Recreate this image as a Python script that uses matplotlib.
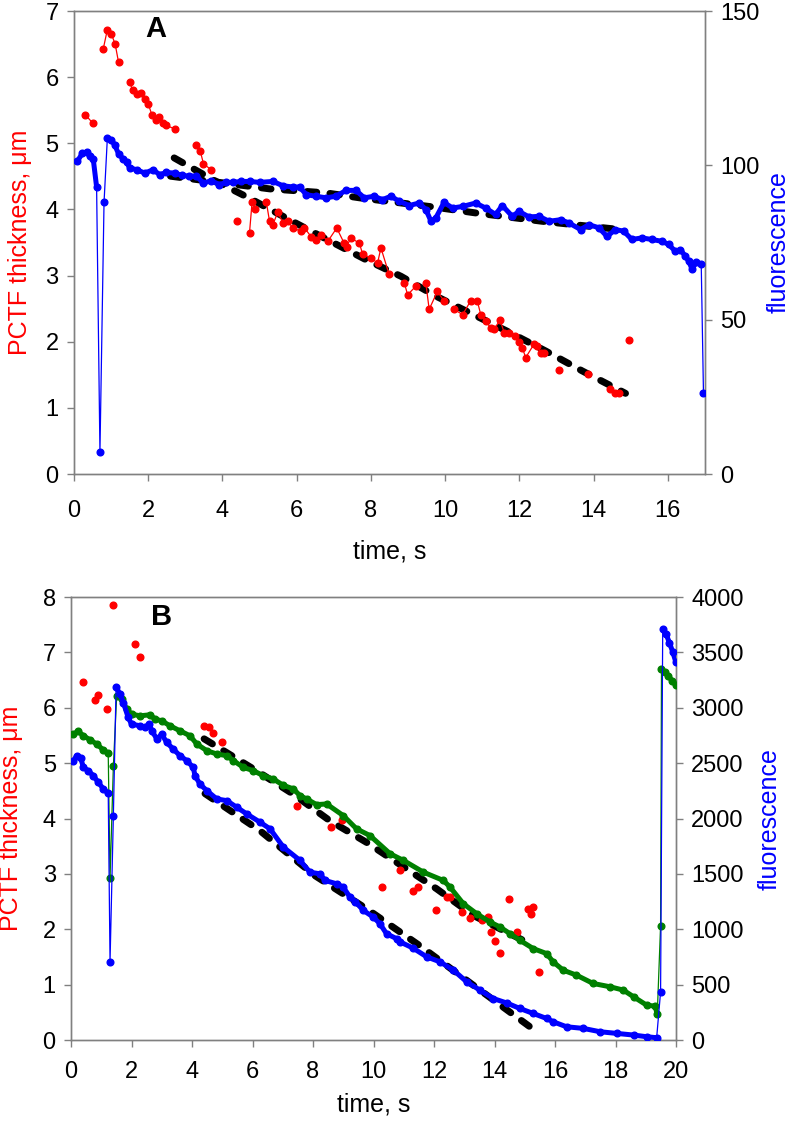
import numpy as np
import matplotlib
matplotlib.use("Agg")
import matplotlib.pyplot as plt

plt.rcParams['font.family'] = ['Liberation Sans', 'DejaVu Sans']

# ---------------- Panel A data ----------------
a_red_t = [0.31, 0.50, 0.79, 0.90, 1.01, 1.11, 1.20, 1.50, 1.58, 1.70, 1.81, 1.92, 2.00, 2.10, 2.20,
           2.29, 2.40, 2.49, 2.71, 3.29, 3.40, 3.49, 3.70, 4.38, 4.73, 4.80, 4.89, 5.18, 5.27, 5.36,
           5.49, 5.63, 5.76, 5.90, 6.12, 6.21, 6.39, 6.52, 6.66, 6.84, 7.08, 7.28, 7.35, 7.46, 7.69,
           7.78, 8.00, 8.18, 8.27, 8.49, 8.90, 8.99, 9.21, 9.48, 9.57, 9.79, 9.97, 10.24, 10.47, 10.69,
           10.87, 10.96, 11.09, 11.23, 11.32, 11.48, 11.59, 11.72, 11.88, 11.99, 12.08, 12.17, 12.39,
           12.48, 12.57, 12.66, 13.06, 13.85, 14.45, 14.59, 14.68, 14.96]
a_red_v = [5.43, 5.31, 6.43, 6.72, 6.65, 6.50, 6.23, 5.93, 5.80, 5.75, 5.76, 5.67, 5.60, 5.43, 5.35,
           5.40, 5.31, 5.27, 5.22, 4.98, 4.89, 4.69, 4.60, 3.82, 3.65, 4.12, 4.00, 4.12, 3.82, 3.77,
           3.96, 3.80, 3.82, 3.72, 3.67, 3.72, 3.59, 3.54, 3.62, 3.52, 3.72, 3.49, 3.44, 3.57, 3.49,
           3.32, 3.27, 3.19, 3.42, 3.02, 2.89, 2.71, 2.84, 2.89, 2.49, 2.76, 2.62, 2.49, 2.41, 2.62,
           2.61, 2.41, 2.31, 2.21, 2.19, 2.33, 2.14, 2.14, 2.09, 2.00, 1.91, 1.76, 1.96,
           1.94, 1.83, 1.83, 1.57, 1.52, 1.29, 1.23, 1.23, 2.03]

a_blue_t = [0.09, 0.23, 0.34, 0.43, 0.52, 0.61, 0.70, 0.81, 0.90, 1.01, 1.10, 1.20, 1.33, 1.42, 1.50,
            1.69, 1.91, 2.13, 2.31, 2.49, 2.72, 2.90, 3.10, 3.30, 3.48, 3.70, 3.92, 4.10, 4.28, 4.50,
            4.73, 5.00, 5.36, 5.63, 5.90, 6.08, 6.26, 6.52, 6.79, 7.06, 7.33, 7.60, 7.82, 8.09, 8.31,
            8.54, 8.76, 9.03, 9.30, 9.48, 9.62, 9.75, 9.97, 10.20, 10.47, 10.82, 11.09, 11.36, 11.54,
            11.81, 11.99, 12.26, 12.53, 12.80, 13.11, 13.33, 13.65, 13.87, 14.14, 14.36, 14.59, 14.81,
            15.03, 15.30, 15.57, 15.84, 16.02, 16.20, 16.34, 16.47, 16.56, 16.65, 16.77, 16.90, 16.96]
a_blue_f = [101.3, 104.0, 104.2, 103.0, 102.0, 93.0, 7.0, 88.0, 108.9, 108.3, 106.5, 103.8, 102.0, 101.0, 99.2,
            98.6, 97.5, 98.6, 97.0, 97.7, 97.5, 96.8, 96.5, 96.6, 94.3, 95.0, 93.8, 94.5, 94.5, 94.8,
            94.8, 94.5, 94.8, 93.4, 93.0, 93.0, 90.5, 90.0, 89.5, 90.0, 91.9, 91.9, 89.5, 90.0, 88.9,
            90.0, 88.4, 87.0, 87.8, 85.7, 81.9, 83.0, 88.0, 86.2, 86.7, 87.8, 86.2, 84.1, 87.0,
            83.5, 85.1, 83.3, 83.5, 81.9, 82.4, 81.4, 79.2, 80.8, 79.8, 77.0, 79.2, 78.7,
            76.0, 76.5, 76.0, 75.4, 74.4, 72.2, 72.7, 70.6, 69.0, 66.5, 68.6, 67.9, 26.4]

a_fit_thick_t = [2.70, 3.74, 4.73, 5.72, 6.84, 7.87, 8.81, 9.75, 10.73, 11.67, 12.71, 13.69, 14.86]
a_fit_thick_v = [4.78, 4.45, 4.17, 3.87, 3.54, 3.24, 2.99, 2.69, 2.42, 2.16, 1.86, 1.56, 1.22]
a_fit_fl_t = [2.60, 5.27, 6.79, 7.69, 9.70, 10.82, 12.61, 14.72]
a_fit_fl_f = [96.5, 92.4, 91.1, 89.5, 86.5, 84.6, 81.9, 79.2]

# ---------------- Panel B data ----------------
b_red_t = [0.41, 0.79, 0.90, 1.20, 1.40, 2.10, 2.29, 4.40, 4.57, 4.70, 5.00, 7.47, 8.58, 8.95, 10.27,
           10.88, 11.32, 11.48, 12.08, 12.42, 12.53, 12.92, 13.19, 13.58, 13.80, 13.89, 14.00, 14.18,
           14.49, 14.73, 15.10, 15.20, 15.28, 15.48]
b_red_v = [6.46, 6.14, 6.23, 5.97, 7.86, 7.16, 6.91, 5.68, 5.65, 5.54, 5.38, 4.22, 3.84, 3.98, 2.77,
           3.08, 2.70, 2.76, 2.34, 2.58, 2.59, 2.31, 2.21, 2.16, 2.22, 1.95, 1.78, 1.57,
           2.54, 1.95, 2.37, 2.27, 2.40, 1.23]

b_blue_t = [0.08, 0.19, 0.32, 0.41, 0.57, 0.74, 0.90, 1.07, 1.23, 1.29, 1.40, 1.49, 1.62, 1.73, 1.89,
            2.00, 2.28, 2.45, 2.59, 2.67, 2.84, 3.00, 3.16, 3.38, 3.60, 3.83, 4.04, 4.10, 4.26, 4.49,
            4.82, 5.15, 5.48, 5.81, 6.25, 6.58, 7.02, 7.57, 7.90, 8.23, 8.40, 8.78, 9.00, 9.22, 9.40,
            9.66, 9.99, 10.21, 10.43, 10.76, 10.88, 11.31, 11.76, 12.20, 12.64, 13.08, 13.52, 13.96,
            14.40, 14.84, 15.28, 15.72, 15.94, 16.38, 16.94, 17.49, 18.04, 18.60, 19.03, 19.36, 19.49,
            19.56, 19.67, 19.78, 19.89, 19.99]
b_blue_f = [2522, 2568, 2547, 2462, 2432, 2387, 2327, 2268, 2228, 706, 2027, 3189, 3123, 3048, 2913,
            2853, 2838, 2823, 2853, 2793, 2718, 2763, 2688, 2628, 2568, 2522, 2462, 2387, 2312, 2252,
            2177, 2162, 2102, 2042, 1967, 1907, 1742, 1622, 1516, 1501, 1441, 1411, 1381, 1291, 1250,
            1171, 1111, 1051, 960, 916, 886, 830, 751, 706, 631, 526, 450, 375,
            335, 285, 240, 195, 165, 120, 105, 75, 60, 45, 30, 21, 435,
            3709, 3669, 3588, 3507, 3417]

b_green_t = [0.08, 0.24, 0.41, 0.64, 0.85, 1.07, 1.23, 1.29, 1.40, 1.51, 1.67, 1.84, 2.00, 2.28, 2.61,
             2.78, 3.00, 3.27, 3.60, 3.93, 4.16, 4.49, 4.82, 5.15, 5.37, 5.70, 6.03, 6.36, 6.69, 7.02,
             7.35, 7.57, 7.79, 8.12, 8.45, 9.00, 9.44, 9.88, 10.55, 10.99, 11.65, 12.31, 12.53, 12.97,
             13.41, 13.85, 14.18, 14.51, 14.84, 15.28, 15.72, 15.94, 16.27, 16.71, 17.26, 17.82, 18.26,
             18.60, 19.03, 19.31, 19.38, 19.49, 19.52, 19.63, 19.74, 19.88, 19.99]
b_green_f = [2763, 2787, 2748, 2709, 2673, 2619, 2589, 1462, 2471, 3108, 3078, 2988, 2943, 2928, 2937,
             2898, 2883, 2838, 2793, 2748, 2673, 2613, 2583, 2568, 2523, 2462, 2432, 2387, 2357, 2300,
             2268, 2207, 2177, 2126, 2132, 2027, 1907, 1847, 1682, 1622, 1516, 1441, 1381, 1231,
             1141, 1066, 1021, 961, 901, 826, 781, 706, 631, 586, 511, 481, 451,
             390, 315, 306, 231, 1033, 3348, 3324, 3288, 3243, 3207]

b_fit_upper_t = [4.40, 6.14, 7.35, 8.56, 9.77, 10.93, 12.09, 13.30, 14.40, 14.95]
b_fit_upper_v = [5.44, 4.86, 4.44, 3.96, 3.57, 3.15, 2.73, 2.25, 1.95, 1.80]
b_fit_lower_t = [4.43, 6.25, 8.06, 9.80, 11.54, 13.30, 15.17]
b_fit_lower_v = [4.45, 3.78, 2.97, 2.36, 1.70, 0.99, 0.24]

RED = '#ff0000'
BLUE = '#0000ff'
GREEN = '#008000'
GREY = '#808080'
FS = 17
MS = 4.8


def broken_t(t, v, gap):
    """Insert NaN breaks where consecutive times are far apart."""
    t = np.asarray(t, float)
    v = np.asarray(v, float)
    tt, vv = [t[0]], [v[0]]
    for i in range(1, len(t)):
        if t[i] - t[i - 1] > gap:
            tt.append(np.nan)
            vv.append(np.nan)
        tt.append(t[i])
        vv.append(v[i])
    return np.array(tt), np.array(vv)


def broken_v(t, v, jump):
    """Insert NaN breaks where consecutive values jump strongly."""
    t = np.asarray(t, float)
    v = np.asarray(v, float)
    tt, vv = [t[0]], [v[0]]
    for i in range(1, len(t)):
        if abs(v[i] - v[i - 1]) > jump:
            tt.append(np.nan)
            vv.append(np.nan)
        tt.append(t[i])
        vv.append(v[i])
    return np.array(tt), np.array(vv)


def band(ax, t, v, color, jump):
    ax.plot(t, v, color=color, lw=0.9, zorder=3)
    bt, bv = broken_v(t, v, jump)
    ax.plot(bt, bv, color=color, lw=3.6, solid_capstyle='round', zorder=3)
    ax.plot(t, v, ls='none', marker='o', ms=MS, mec=color, mfc=color, zorder=3)


def style(ax, twin, xpad):
    for s in list(ax.spines.values()) + list(twin.spines.values()):
        s.set_color(GREY)
        s.set_linewidth(1.0)
    ax.tick_params(direction='out', length=5, width=1, color=GREY, labelsize=FS, pad=6)
    twin.tick_params(direction='out', length=5, width=1, color=GREY, labelsize=FS, pad=6)
    ax.tick_params(axis='x', pad=xpad)


def dashed(ax, t, v):
    ln, = ax.plot(t, v, color='black', lw=5, zorder=1)
    ln.set_dashes((1.4, 1.9))
    ln.set_dash_capstyle('round')


fig = plt.figure(figsize=(7.97, 11.30), dpi=100)

# ---------------- Panel A ----------------
axA = fig.add_axes([0.0928, 0.5805, 0.7917, 0.4097])
axA2 = axA.twinx()
dashed(axA, a_fit_thick_t, a_fit_thick_v)
rt, rv = broken_t(a_red_t, a_red_v, 0.25)
axA.plot(rt, rv, color=RED, lw=0.9, marker='o', ms=MS, mec=RED, mfc=RED, zorder=3)
axA.set_xlim(0, 17)
axA.set_ylim(0, 7)
axA.set_xticks(np.arange(0, 17, 2))
axA.set_yticks(np.arange(0, 8, 1))
dashed(axA2, a_fit_fl_t, a_fit_fl_f)
band(axA2, a_blue_t, a_blue_f, BLUE, 12)
axA2.set_ylim(0, 150)
axA2.set_yticks([0, 50, 100, 150])
axA.set_xlabel('time, s', fontsize=FS + 1, labelpad=12)
axA.set_ylabel('PCTF thickness, μm', fontsize=FS + 1, color=RED, labelpad=10)
axA2.set_ylabel('fluorescence', fontsize=FS + 1, color=BLUE, labelpad=5)
axA.text(2.2, 6.73, 'A', fontsize=21, fontweight='bold', ha='center', va='center')
style(axA, axA2, 14)

# ---------------- Panel B ----------------
axB = fig.add_axes([0.0891, 0.0796, 0.7591, 0.3920])
axB2 = axB.twinx()
dashed(axB, b_fit_upper_t, b_fit_upper_v)
dashed(axB, b_fit_lower_t, b_fit_lower_v)
axB.plot(b_red_t, b_red_v, ls='none', marker='o', ms=MS, mec=RED, mfc=RED, zorder=3)
axB.set_xlim(0, 20)
axB.set_ylim(0, 8)
axB.set_xticks(np.arange(0, 21, 2))
axB.set_yticks(np.arange(0, 9, 1))
band(axB2, b_green_t, b_green_f, GREEN, 350)
band(axB2, b_blue_t, b_blue_f, BLUE, 350)
axB2.set_ylim(0, 4000)
axB2.set_yticks(np.arange(0, 4001, 500))
axB.set_xlabel('time, s', fontsize=FS + 1, labelpad=7)
axB.set_ylabel('PCTF thickness, μm', fontsize=FS + 1, color=RED, labelpad=14)
axB2.set_ylabel('fluorescence', fontsize=FS + 1, color=BLUE, labelpad=10)
axB.text(2.98, 7.64, 'B', fontsize=21, fontweight='bold', ha='center', va='center')
style(axB, axB2, 10)

fig.savefig('out.png', dpi=100)
